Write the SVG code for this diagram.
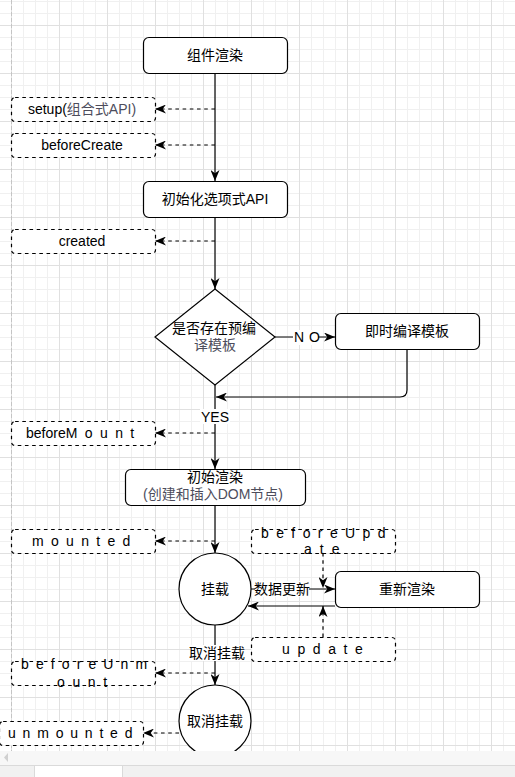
<svg xmlns="http://www.w3.org/2000/svg" width="515" height="777" viewBox="0 0 515 777">
<style>
.t{font-family:"Liberation Sans","Noto Sans CJK SC",sans-serif;font-size:14px;fill:#000;text-anchor:middle}
.s{font-family:"Liberation Sans","Noto Sans CJK SC",sans-serif;font-size:14px;fill:#000}
.g{fill:#4d4d5c}
.box{fill:#fff;stroke:#000;stroke-width:1.2}
.dbox{fill:#fff;stroke:#000;stroke-width:1.2;stroke-dasharray:3.6 3.6}
.ln{fill:none;stroke:#000;stroke-width:1.2}
.dl{fill:none;stroke:#000;stroke-width:1.2;stroke-dasharray:3.6 3.6}
.lb{fill:#fff}
</style>
<defs>
<pattern id="minor" width="12" height="12" x="11" y="1" patternUnits="userSpaceOnUse">
<path d="M0 0.5H12M0.5 0V12" fill="none" stroke="#f0f0f0" stroke-width="1"/>
</pattern>
<pattern id="major" width="48" height="48" x="11" y="25" patternUnits="userSpaceOnUse">
<path d="M0 0.5H48M0.5 0V48" fill="none" stroke="#e0e0e0" stroke-width="1"/>
</pattern>
<marker id="ah" markerUnits="userSpaceOnUse" markerWidth="11" markerHeight="9" refX="11" refY="4.5" orient="auto">
<path d="M0,0 L11,4.5 L0,9 L3.3,4.5 z" fill="#000"/>
</marker>
</defs>
<rect width="515" height="777" fill="#fff"/>
<rect width="515" height="751" fill="url(#minor)"/>
<rect width="515" height="751" fill="url(#major)"/>
<line x1="11.5" y1="0" x2="11.5" y2="751" stroke="#c4c4c4" stroke-dasharray="4 2"/>

<g id="connectors">
<path class="ln" d="M215 73V181" marker-end="url(#ah)"/>
<path class="dl" d="M215 109H155" marker-end="url(#ah)"/>
<path class="dl" d="M215 145H155" marker-end="url(#ah)"/>
<path class="ln" d="M215 217V289" marker-end="url(#ah)"/>
<path class="dl" d="M215 241H155" marker-end="url(#ah)"/>
<path class="ln" d="M275 337H335" marker-end="url(#ah)"/>
<rect class="lb" x="293" y="330" width="25" height="15"/>
<text class="s" x="294" y="342" letter-spacing="5">NO</text>
<path class="ln" d="M407 349V390Q407 397 400 397H216" marker-end="url(#ah)"/>
<path class="ln" d="M215 385V469" marker-end="url(#ah)"/>
<rect class="lb" x="200" y="409" width="30" height="15"/>
<text class="t" x="215" y="422">YES</text>
<path class="dl" d="M215 433H155" marker-end="url(#ah)"/>
<path class="ln" d="M215 505V553" marker-end="url(#ah)"/>
<path class="dl" d="M215 541H155" marker-end="url(#ah)"/>
<path class="ln" d="M251 589H335" marker-end="url(#ah)"/>
<rect class="lb" x="255" y="581" width="54" height="16"/>
<text class="t" x="282" y="594">数据更新</text>
<path class="ln" d="M335 606H248" marker-end="url(#ah)"/>
<path class="dl" d="M323 553V588" marker-end="url(#ah)"/>
<path class="dl" d="M323 637V606" marker-end="url(#ah)"/>
<path class="ln" d="M215 625V685" marker-end="url(#ah)"/>
<rect class="lb" x="190" y="645" width="54" height="16"/>
<text class="t" x="217" y="658">取消挂载</text>
<path class="dl" d="M215 673H155" marker-end="url(#ah)"/>
<path class="dl" d="M179 733H143" marker-end="url(#ah)"/>
</g>

<g id="n-render">
<rect class="box" x="143.5" y="37.5" width="144" height="36" rx="5.4"/>
<text class="t" x="215" y="60">组件渲染</text>
</g>
<g id="n-setup">
<rect class="dbox" x="11.5" y="97.5" width="144" height="24" rx="3.6"/>
<text class="t" x="82" y="114">setup(<tspan class="g">组合式API)</tspan></text>
</g>
<g id="n-beforeCreate">
<rect class="dbox" x="11.5" y="133.5" width="144" height="24" rx="3.6"/>
<text class="t" x="82" y="150">beforeCreate</text>
</g>
<g id="n-initOptions">
<rect class="box" x="143.5" y="181.5" width="144" height="36" rx="5.4"/>
<text class="t" x="215" y="204">初始化选项式API</text>
</g>
<g id="n-created">
<rect class="dbox" x="11.5" y="229.5" width="144" height="24" rx="3.6"/>
<text class="t" x="82" y="246">created</text>
</g>
<g id="n-decision">
<polygon class="box" points="215,289 275,337 215,385 155,337"/>
<text class="t" x="214" y="333">是否存在预编</text>
<text class="t g" x="215" y="350">译模板</text>
</g>
<g id="n-compile">
<rect class="box" x="335.5" y="313.5" width="144" height="36" rx="5.4"/>
<text class="t" x="407" y="336">即时编译模板</text>
</g>
<g id="n-beforeMount">
<rect class="dbox" x="11.5" y="421.5" width="144" height="24" rx="3.6"/>
<text class="s" x="26" y="438">before<tspan letter-spacing="7.4">Mount</tspan></text>
</g>
<g id="n-initRender">
<rect class="box" x="125.5" y="469.5" width="180" height="36" rx="5.4"/>
<text class="t" x="215" y="482">初始渲染</text>
<text class="t g" x="213" y="499">(创建和插入DOM节点)</text>
</g>
<g id="n-mounted">
<rect class="dbox" x="11.5" y="529.5" width="144" height="24" rx="3.6"/>
<text class="s" x="32" y="546" letter-spacing="7.3">mounted</text>
</g>
<g id="n-mount">
<circle class="box" cx="215" cy="589" r="36"/>
<text class="t" x="215" y="594">挂载</text>
</g>
<g id="n-beforeUpdate">
<rect class="dbox" x="251.5" y="529.5" width="144" height="24" rx="3.6"/>
<text class="s" x="261" y="538" letter-spacing="7.4">beforeUpd</text>
<text class="s" x="304" y="554" letter-spacing="8">ate</text>
</g>
<g id="n-rerender">
<rect class="box" x="335.5" y="571.5" width="144" height="36" rx="5.4"/>
<text class="t" x="407" y="594">重新渲染</text>
</g>
<g id="n-update">
<rect class="dbox" x="251.5" y="637.5" width="144" height="24" rx="3.6"/>
<text class="s" x="282" y="654" letter-spacing="7.6">update</text>
</g>
<g id="n-beforeUnmount">
<rect class="dbox" x="11.5" y="661.5" width="144" height="24" rx="3.6"/>
<text class="s" x="21" y="669" letter-spacing="7.1">beforeUnm</text>
<text class="s" x="57" y="687" letter-spacing="7.6">ount</text>
</g>
<g id="n-unmount">
<circle class="box" cx="215" cy="721" r="36"/>
<text class="t" x="215" y="726">取消挂载</text>
</g>
<g id="n-unmounted">
<rect class="dbox" x="-0.5" y="721.5" width="144" height="24" rx="3.6"/>
<text class="s" x="8" y="738" letter-spacing="6.8">unmounted</text>
</g>

<g id="chrome">
<rect x="0" y="751" width="515" height="14" fill="#f7f7f7"/>
<polygon points="8,753 8,762 4,757.5" fill="#d0d0d0"/>
<rect x="0" y="765" width="515" height="12" fill="#f1f1f1"/>
<line x1="0" y1="765.5" x2="515" y2="765.5" stroke="#dadada"/>
<rect x="34.5" y="765.5" width="88" height="12" fill="#fff" stroke="#dadada"/>
</g>
</svg>
